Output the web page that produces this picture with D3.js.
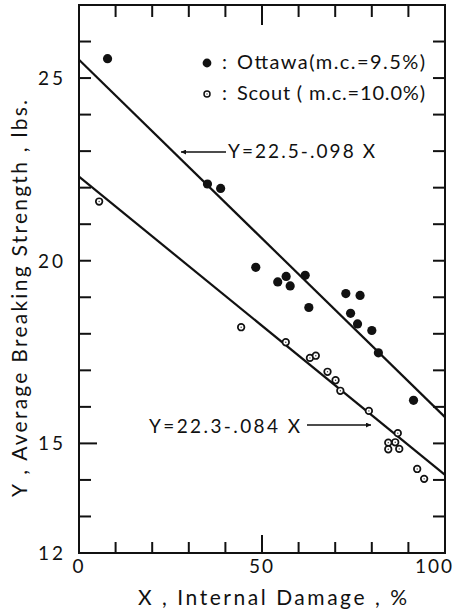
<!DOCTYPE html>
<html>
<head>
<meta charset="utf-8">
<script src="https://cdn.jsdelivr.net/npm/d3@7"></script>
<style>
  body { margin: 0; background: #fff; }
  text { font-family: "Lato", "DejaVu Sans", sans-serif; font-weight: 400; fill: #111; }
</style>
</head>
<body>
<div class="myBox"></div>
<script>
var width = 455;
var height = 614;

// data
var ottawaX = [7.8, 35.1, 38.7, 48.3, 54.3, 56.6, 57.7, 61.8, 62.8, 72.9, 76.8, 74.2, 76.1, 80.0, 81.8, 91.4];
var ottawaY = [25.53, 22.1, 21.98, 19.82, 19.42, 19.57, 19.31, 19.6, 18.72, 19.1, 19.05, 18.56, 18.27, 18.09, 17.48, 16.18];
var scoutX = [5.5, 44.3, 56.5, 63.1, 64.7, 67.9, 70.1, 71.4, 79.2, 84.5, 86.4, 87.1, 84.5, 87.5, 92.4, 94.3];
var scoutY = [21.62, 18.18, 17.77, 17.34, 17.4, 16.96, 16.73, 16.44, 15.89, 15.02, 15.03, 15.28, 14.84, 14.85, 14.3, 14.03];
// fitted lines, as drawn (x from 0 to 100)
var ottawaFit = [25.5, 15.72];
var scoutFit = [22.3, 14.14];
var xTicks = [0, 10, 20, 30, 40, 50, 60, 70, 80, 90, 100];
var xLabels = [0, 50, 100];
var yTicks = [12, 13, 14, 15, 16, 17, 18, 19, 20, 21, 22, 23, 24, 25, 26, 27];
var yLabels = [12, 15, 20, 25];

var svg = d3.select(".myBox")
  .append("svg")
  .attr("width", width)
  .attr("height", height);

var x = d3.scaleLinear().domain([0, 100]).range([79, 445]);
var y = d3.scaleLinear().domain([12, 27]).range([553, 5]);

// frame
svg.append("rect")
  .attr("x", x(0)).attr("y", y(27))
  .attr("width", x(100) - x(0)).attr("height", y(12) - y(27))
  .attr("fill", "none").attr("stroke", "#111").attr("stroke-width", 2);

// ticks, all pointing in
var xt = xTicks.filter(function(d) { return d > 0 && d < 100; });
svg.selectAll(".xb").data(xt).enter().append("line")
  .attr("x1", function(d) { return x(d); }).attr("x2", function(d) { return x(d); })
  .attr("y1", y(12)).attr("y2", function(d) { return y(12) - (d === 50 ? 18 : 11); })
  .attr("stroke", "#111").attr("stroke-width", 2);
svg.selectAll(".xt").data(xt).enter().append("line")
  .attr("x1", function(d) { return x(d); }).attr("x2", function(d) { return x(d); })
  .attr("y1", y(27)).attr("y2", function(d) { return y(27) + (d === 50 ? 20 : 12); })
  .attr("stroke", "#111").attr("stroke-width", 2);

var yt = yTicks.filter(function(d) { return d > 12 && d < 27; });
svg.selectAll(".yl").data(yt).enter().append("line")
  .attr("x1", x(0)).attr("x2", function(d) { return x(0) + (d === 15 ? 18 : 12); })
  .attr("y1", function(d) { return y(d); }).attr("y2", function(d) { return y(d); })
  .attr("stroke", "#111").attr("stroke-width", 2);
svg.selectAll(".yr").data(yt).enter().append("line")
  .attr("x1", x(100)).attr("x2", x(100) - 12)
  .attr("y1", function(d) { return y(d); }).attr("y2", function(d) { return y(d); })
  .attr("stroke", "#111").attr("stroke-width", 2);

// tick labels
svg.selectAll(".xlab").data(xLabels).enter().append("text")
  .attr("x", function(d) { return d === 100 ? 454 : x(d); })
  .attr("y", 573)
  .attr("text-anchor", function(d) { return d === 100 ? "end" : "middle"; })
  .attr("font-size", 19)
  .attr("letter-spacing", 2)
  .text(function(d) { return d; });

svg.selectAll(".ylab").data(yLabels).enter().append("text")
  .attr("x", 66)
  .attr("y", function(d) { return y(d) + 7; })
  .attr("text-anchor", "end")
  .attr("font-size", 19)
  .attr("letter-spacing", 3)
  .text(function(d) { return d; });

// axis titles
svg.append("text")
  .attr("x", 138).attr("y", 605)
  .attr("font-size", 21)
  .attr("textLength", 269).attr("lengthAdjust", "spacing")
  .text("X ,  Internal  Damage , %");

svg.append("text")
  .attr("transform", "translate(27,497) rotate(-90)")
  .attr("font-size", 21)
  .attr("textLength", 397).attr("lengthAdjust", "spacing")
  .text("Y ,  Average  Breaking  Strength ,  lbs.");

// fit lines
var line = d3.line().x(function(d) { return x(d[0]); }).y(function(d) { return y(d[1]); });
svg.append("path").attr("d", line([[0, ottawaFit[0]], [100, ottawaFit[1]]]))
  .attr("fill", "none").attr("stroke", "#111").attr("stroke-width", 2.2);
svg.append("path").attr("d", line([[0, scoutFit[0]], [100, scoutFit[1]]]))
  .attr("fill", "none").attr("stroke", "#111").attr("stroke-width", 2.2);

// points
var ottawa = ottawaX.map(function(v, i) { return [v, ottawaY[i]]; });
var scout = scoutX.map(function(v, i) { return [v, scoutY[i]]; });

svg.selectAll(".ott").data(ottawa).enter().append("circle")
  .attr("cx", function(d) { return x(d[0]); })
  .attr("cy", function(d) { return y(d[1]); })
  .attr("r", 4.6)
  .attr("fill", "#111");

svg.selectAll(".sco").data(scout).enter().append("circle")
  .attr("cx", function(d) { return x(d[0]); })
  .attr("cy", function(d) { return y(d[1]); })
  .attr("r", 3.3)
  .attr("fill", "#fff").attr("stroke", "#111").attr("stroke-width", 1.7);
svg.selectAll(".scod").data(scout).enter().append("circle")
  .attr("cx", function(d) { return x(d[0]); })
  .attr("cy", function(d) { return y(d[1]); })
  .attr("r", 0.7)
  .attr("fill", "#333");

// legend
svg.append("circle").attr("cx", 207).attr("cy", 63).attr("r", 4.4).attr("fill", "#111");
svg.append("circle").attr("cx", 207).attr("cy", 94).attr("r", 3).attr("fill", "#fff")
  .attr("stroke", "#111").attr("stroke-width", 1.5);
svg.append("circle").attr("cx", 207).attr("cy", 94).attr("r", 0.7).attr("fill", "#333");
svg.append("text").attr("x", 222).attr("y", 69).attr("font-size", 20).text(":");
svg.append("text").attr("x", 222).attr("y", 100).attr("font-size", 20).text(":");
svg.append("text").attr("x", 237).attr("y", 69).attr("font-size", 20)
  .attr("textLength", 188).attr("lengthAdjust", "spacing")
  .text("Ottawa(m.c.=9.5%)");
svg.append("text").attr("x", 237).attr("y", 100).attr("font-size", 20)
  .attr("textLength", 188).attr("lengthAdjust", "spacing")
  .text("Scout ( m.c.=10.0%)");

// equation labels with arrows
svg.append("defs").append("marker")
  .attr("id", "arr").attr("viewBox", "0 0 10 10")
  .attr("refX", 10).attr("refY", 5)
  .attr("markerWidth", 9).attr("markerHeight", 5)
  .attr("markerUnits", "userSpaceOnUse")
  .attr("orient", "auto")
  .append("path").attr("d", "M0,0L10,5L0,10Z").attr("fill", "#111");

svg.append("line").attr("x1", 226).attr("y1", 152).attr("x2", 181).attr("y2", 152)
  .attr("stroke", "#111").attr("stroke-width", 1.3).attr("marker-end", "url(#arr)");
svg.append("text").attr("x", 228).attr("y", 158).attr("font-size", 19)
  .attr("textLength", 147).attr("lengthAdjust", "spacing")
  .text("Y=22.5-.098 X");

svg.append("line").attr("x1", 307).attr("y1", 425).attr("x2", 371).attr("y2", 425)
  .attr("stroke", "#111").attr("stroke-width", 1.3).attr("marker-end", "url(#arr)");
svg.append("text").attr("x", 149).attr("y", 433).attr("font-size", 19)
  .attr("textLength", 151).attr("lengthAdjust", "spacing")
  .text("Y=22.3-.084 X");
</script>
</body>
</html>
